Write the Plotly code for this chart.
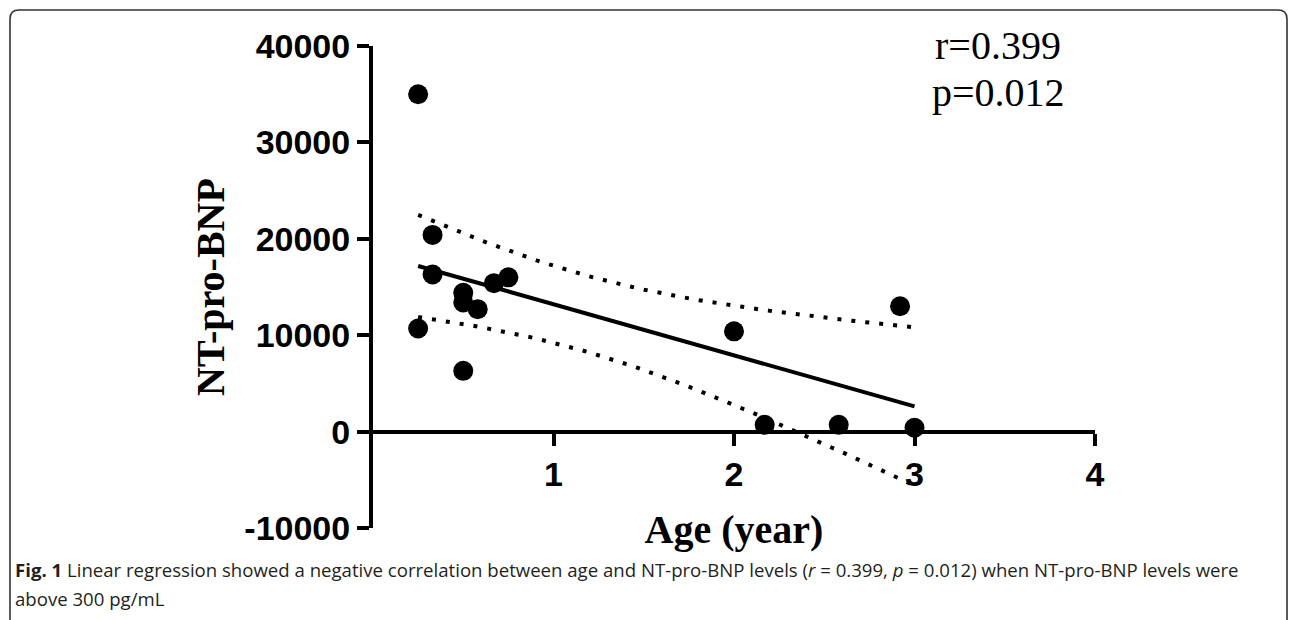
import numpy as np
import plotly.graph_objects as go

# ---- data ----
age_years = [0.25, 0.33, 0.33, 0.25, 0.50, 0.50, 0.58, 0.50, 0.67, 0.75, 2.00, 2.92, 2.17, 2.58, 3.00]
nt_pro_bnp = [35000, 20400, 16300, 10700, 14400, 13400, 12700, 6300, 15400, 16000, 10400, 13000, 700, 700, 400]

y_tick_values = [-10000, 0, 10000, 20000, 30000, 40000]
y_tick_labels = ["-10000", "0", "10000", "20000", "30000", "40000"]
x_tick_values = [1, 2, 3, 4]
x_tick_labels = ["1", "2", "3", "4"]

stat_lines = ["r=0.399", "p=0.012"]
caption_line1 = ("<b>Fig. 1</b> Linear regression showed a negative correlation between age and "
                 "NT-pro-BNP levels (<i>r</i> = 0.399, <i>p</i> = 0.012) when NT-pro-BNP levels were")
caption_line2 = "above 300 pg/mL"

# ---- linear regression with 95% confidence band ----
x = np.array(age_years, dtype=float)
y = np.array(nt_pro_bnp, dtype=float)
n = len(x)
slope, intercept = np.polyfit(x, y, 1)
resid = y - (slope * x + intercept)
s = np.sqrt(np.sum(resid ** 2) / (n - 2))
sxx = np.sum((x - x.mean()) ** 2)
t_crit = 2.160  # t(0.975, df=13)
xg = np.linspace(x.min(), x.max(), 80)
yg = slope * xg + intercept
half = t_crit * s * np.sqrt(1.0 / n + (xg - x.mean()) ** 2 / sxx)

# ---- layout geometry (pixels) ----
W, H = 1292, 620
ML, MR, MT, MB = 373, 197, 46, 92
PW, PH = W - ML - MR, H - MT - MB


def px(xp):
    return (xp - ML) / PW


def py(yp):
    return (H - MB - yp) / PH


fig = go.Figure()

fig.add_trace(go.Scatter(x=xg, y=yg + half, mode="lines",
                         line=dict(color="black", width=4, dash="4px,10px"),
                         hoverinfo="skip", showlegend=False))
fig.add_trace(go.Scatter(x=xg, y=yg - half, mode="lines",
                         line=dict(color="black", width=4, dash="4px,10px"),
                         hoverinfo="skip", showlegend=False))
fig.add_trace(go.Scatter(x=[xg[0], xg[-1]], y=[yg[0], yg[-1]], mode="lines",
                         line=dict(color="black", width=4), showlegend=False))
fig.add_trace(go.Scatter(x=age_years, y=nt_pro_bnp, mode="markers",
                         marker=dict(color="black", size=20), showlegend=False))

tick_font = dict(family="Liberation Sans, Arial, sans-serif", size=34, color="black", weight="bold")
title_font = dict(family="Liberation Serif, Times New Roman, serif", size=40, color="black", weight="bold")

fig.update_layout(
    width=W, height=H,
    margin=dict(l=ML, r=MR, t=MT, b=MB, pad=0),
    paper_bgcolor="white", plot_bgcolor="white",
    showlegend=False,
    xaxis=dict(range=[0, 4], anchor="free", position=0.2,
               showgrid=False, zeroline=False,
               showline=True, linecolor="black", linewidth=4,
               ticks="outside", ticklen=12, tickwidth=4, tickcolor="black",
               tickvals=x_tick_values, ticktext=x_tick_labels,
               tickfont=tick_font, ticklabelstandoff=0,
               title=dict(text="Age (year)", font=title_font, standoff=22)),
    yaxis=dict(range=[-10000, 40000],
               showgrid=False, zeroline=False,
               showline=True, linecolor="black", linewidth=4,
               ticks="outside", ticklen=12, tickwidth=4, tickcolor="black",
               tickvals=y_tick_values, ticktext=y_tick_labels,
               tickfont=tick_font, ticklabelstandoff=0,
               title=dict(text="NT-pro-BNP", font=title_font, standoff=8)),
)

stat_font = dict(family="Liberation Serif, Times New Roman, serif", size=40, color="black")
fig.add_annotation(xref="paper", yref="paper", x=px(998), y=py(45), text=stat_lines[0],
                   showarrow=False, xanchor="center", yanchor="middle", font=stat_font)
fig.add_annotation(xref="paper", yref="paper", x=px(998), y=py(92), text=stat_lines[1],
                   showarrow=False, xanchor="center", yanchor="middle", font=stat_font)

cap_font = dict(family="Open Sans, Noto Sans, sans-serif", size=18.6, color="#231f20")
fig.add_annotation(xref="paper", yref="paper", x=px(13), y=py(569), text=caption_line1,
                   showarrow=False, xanchor="left", yanchor="middle", font=cap_font)
fig.add_annotation(xref="paper", yref="paper", x=px(13), y=py(598), text=caption_line2,
                   showarrow=False, xanchor="left", yanchor="middle", font=cap_font)

# page frame with rounded top corners
r = 9
frame = (f"M {px(10)},{py(640)} L {px(10)},{py(10 + r)} Q {px(10)},{py(10)} {px(10 + r)},{py(10)} "
         f"L {px(1287 - r)},{py(10)} Q {px(1287)},{py(10)} {px(1287)},{py(10 + r)} L {px(1287)},{py(640)}")
fig.add_shape(type="path", xref="paper", yref="paper", path=frame,
              line=dict(color="#333333", width=1.6), layer="above")

fig.write_html("out.html")
